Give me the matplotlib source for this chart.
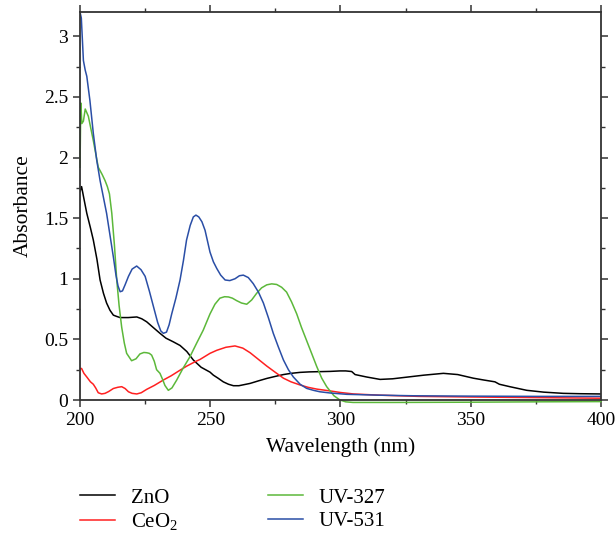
import numpy as np
import matplotlib.pyplot as plt
from matplotlib.ticker import MultipleLocator

plt.rcParams['font.family'] = ['Liberation Serif', 'DejaVu Serif']
plt.rcParams['mathtext.fontset'] = 'custom'
plt.rcParams['mathtext.rm'] = 'Liberation Serif'

# ZnO
zno_x = [200, 200.6, 201.5, 202.6, 204, 205.1, 206.5, 207.7, 209, 210.2, 211.5, 212.8, 214,
         215.4, 218.5, 221.8, 223.7, 225.6, 228, 230.7, 233, 235.8, 238.4, 241, 243.5, 246.5,
         249.9, 251.2, 253, 255, 257, 258.9, 261, 265.3, 268.5, 271.7, 275, 278.1, 281,
         284.5, 288, 292, 296, 299.8, 302, 304.3, 305.6, 310, 315.2, 320, 326, 332, 339.5,
         345, 351, 355, 359.3, 361, 365, 371.5, 378, 385.5, 392, 400]
zno_y = [1.72, 1.76, 1.66, 1.54, 1.42, 1.32, 1.16, 0.99, 0.88, 0.8, 0.74, 0.7, 0.69, 0.68,
         0.68, 0.685, 0.67, 0.645, 0.6, 0.55, 0.51, 0.48, 0.45, 0.4, 0.33, 0.27, 0.23, 0.205,
         0.18, 0.15, 0.13, 0.118, 0.118, 0.137, 0.158, 0.178, 0.195, 0.21, 0.22, 0.228, 0.232,
         0.234, 0.236, 0.24, 0.24, 0.235, 0.21, 0.19, 0.17, 0.175, 0.19, 0.205, 0.22, 0.21,
         0.18, 0.165, 0.15, 0.13, 0.11, 0.08, 0.065, 0.055, 0.052, 0.05]

# CeO2
ceo2_x = [200, 200.6, 201.5, 202.6, 204, 205.1, 206, 207, 208.3, 209.6, 211, 212.8, 214.5, 216,
          217.3, 218.6, 220, 221.8, 223.5, 225.6, 228.5, 232, 235, 238.4, 241, 244.1, 246.1,
          249.9, 252.5, 256, 259.5, 262.5, 265.3, 268.5, 271.7, 275, 278.1, 281, 284.5, 287.5,
          290.9, 296, 300, 305, 315, 330, 350, 375, 400]
ceo2_y = [0.26, 0.26, 0.22, 0.19, 0.15, 0.13, 0.1, 0.06, 0.05, 0.055, 0.07, 0.095, 0.105, 0.11,
          0.095, 0.068, 0.055, 0.05, 0.06, 0.088, 0.12, 0.165, 0.2, 0.246, 0.28, 0.315, 0.335,
          0.385, 0.41, 0.435, 0.446, 0.428, 0.39, 0.335, 0.28, 0.228, 0.18, 0.15, 0.124, 0.105,
          0.09, 0.075, 0.062, 0.05, 0.04, 0.03, 0.025, 0.02, 0.015]

# UV-327
uv327_x = [200, 200.3, 200.7, 201.3, 202, 203.2, 205.1, 207, 208.5, 209.6, 210.5, 211.3, 212.2,
           213.2, 214.1, 215, 216, 217, 217.9, 219.8, 221.5, 223, 224.5, 225.6, 226.6, 227.5,
           228.5, 229.4, 230.7, 231.7, 232.6, 233.9, 235.3, 237.1, 239.5, 242.2, 244.8, 247.3,
           249.9, 251.8, 253.7, 255.5, 257, 258.5, 260.1, 262, 264, 265.9, 267.8, 269.7, 271.7,
           273.6, 275.5, 277.4, 279.3, 281.2, 283.2, 285, 287, 289, 290.9, 292.8, 294.7, 296,
           297.5, 299.8, 302, 304.8, 320, 350, 375, 400]
uv327_y = [1.92, 2.45, 2.28, 2.3, 2.4, 2.34, 2.14, 1.92, 1.86, 1.81, 1.76, 1.7, 1.54, 1.28,
           0.99, 0.78, 0.6, 0.47, 0.385, 0.324, 0.34, 0.38, 0.392, 0.39, 0.385, 0.37, 0.32,
           0.25, 0.22, 0.17, 0.12, 0.08, 0.1, 0.164, 0.26, 0.357, 0.47, 0.576, 0.71, 0.79, 0.84,
           0.852, 0.85, 0.84, 0.82, 0.8, 0.79, 0.825, 0.88, 0.925, 0.95, 0.958, 0.953, 0.93,
           0.89, 0.81, 0.71, 0.6, 0.49, 0.38, 0.275, 0.18, 0.11, 0.075, 0.035, 0.0, -0.015,
           -0.02, -0.02, -0.018, -0.015, -0.013]

# UV-531
uv531_x = [200, 200.5, 201.3, 202, 202.6, 203.8, 205.1, 206.4, 207.7, 209, 210.2, 211.5, 212.8,
           213.8, 214.6, 215.4, 216.3, 217.3, 218.6, 220, 221.75, 223.4, 225, 226.6, 228.2, 229.8,
           231, 232, 233.2, 234.2, 235.2, 236.8, 238.4, 239.7, 240.9, 242.3, 243.5, 244.5,
           245.6, 246.8, 248, 249.9, 251.2, 252.5, 254, 255.7, 257.5, 259.5, 261.2, 262.7,
           264.6, 266.5, 268.5, 270.4, 272.3, 274.2, 276.1, 278.1, 280, 281.9, 284.5, 287,
           289.6, 292.1, 296, 302.4, 315, 327.9, 350, 375, 400]
uv531_y = [3.2, 3.15, 2.8, 2.72, 2.67, 2.47, 2.2, 1.98, 1.81, 1.67, 1.54, 1.36, 1.18, 1.03,
           0.94, 0.893, 0.9, 0.95, 1.02, 1.08, 1.105, 1.075, 1.02, 0.9, 0.77, 0.64, 0.57, 0.55,
           0.56, 0.62, 0.71, 0.84, 0.99, 1.15, 1.32, 1.44, 1.51, 1.525, 1.51, 1.47, 1.4, 1.22,
           1.14, 1.085, 1.03, 0.99, 0.985, 1.0, 1.025, 1.03, 1.01, 0.96, 0.89, 0.8, 0.68, 0.55,
           0.44, 0.33, 0.25, 0.19, 0.13, 0.096, 0.08, 0.068, 0.058, 0.047, 0.04, 0.035, 0.032,
           0.03, 0.03]

fig = plt.figure(figsize=(6.16, 5.34), dpi=100)
ax = fig.add_axes([0.1299, 0.2509, 0.8457, 0.7266])

ax.plot(zno_x, zno_y, color='black', lw=1.1, label='ZnO')
ax.plot(ceo2_x, ceo2_y, color='#ff2020', lw=1.1, label='CeO$_2$')
ax.plot(uv327_x, uv327_y, color='#5cb83a', lw=1.1, label='UV-327', clip_on=False)
ax.plot(uv531_x, uv531_y, color='#2a4ea6', lw=1.1, label='UV-531')

ax.set_xlim(200, 400)
ax.set_ylim(0, 3.2)
ax.xaxis.set_major_locator(MultipleLocator(50))
ax.xaxis.set_minor_locator(MultipleLocator(25))
ax.yaxis.set_minor_locator(MultipleLocator(0.25))
ax.set_yticks([0, 0.5, 1, 1.5, 2, 2.5, 3])
ax.set_yticklabels(['0', '0.5', '1', '1.5', '2', '2.5', '3'])

for s in ax.spines.values():
    s.set_linewidth(1.3)
    s.set_color('#333333')
ax.tick_params(which='both', direction='out', labelsize=14, color='#333333',
               top=True, right=True)
ax.tick_params(which='major', length=5, width=1.1)
ax.tick_params(which='minor', length=3, width=1.0)
ax.tick_params(axis='x', which='both', top=True, labeltop=False)
ax.tick_params(axis='y', which='both', right=True, labelright=False)

ax.set_xlabel('Wavelength (nm)', fontsize=15.5, labelpad=6)
ax.set_ylabel('Absorbance', fontsize=15.5, labelpad=8)

handles, labels = ax.get_legend_handles_labels()
fig.legend(handles, labels, loc='upper left', bbox_to_anchor=(80 / 616, 1 - 488 / 534),
           ncol=2, frameon=False, fontsize=15, handlelength=1.7, columnspacing=4.3,
           labelspacing=0.2, handletextpad=0.75, borderpad=0, borderaxespad=0)

fig.savefig('out.png', dpi=100)
